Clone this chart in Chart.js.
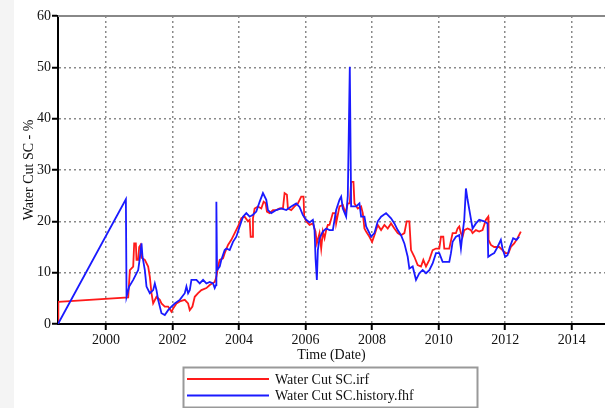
<!DOCTYPE html>
<html>
<head>
<meta charset="utf-8">
<script src="https://cdn.jsdelivr.net/npm/chart.js@4/dist/chart.umd.min.js"></script>
<style>
  html, body { margin: 0; padding: 0; background: #fff; }
  #wrap { width: 605px; height: 408px; position: relative; }
</style>
</head>
<body>
<div id="wrap"><canvas id="wcChart" width="605" height="408"></canvas></div>
<script>
// Water cut, simulated (irf) - decimal years and percent
const irfYears = [1998.56, 1998.57, 2000.67, 2000.72, 2000.82, 2000.85, 2000.90, 2000.92, 2000.97, 2001.00,
  2001.04, 2001.07, 2001.17, 2001.27, 2001.32, 2001.37, 2001.42, 2001.52, 2001.62, 2001.67,
  2001.77, 2001.87, 2001.97, 2002.02, 2002.12, 2002.22, 2002.37, 2002.47, 2002.52, 2002.60,
  2002.67, 2002.77, 2002.87, 2003.02, 2003.12, 2003.27, 2003.32, 2003.37, 2003.42, 2003.52,
  2003.57, 2003.67, 2003.77, 2003.87, 2003.97, 2004.07, 2004.17, 2004.27, 2004.32, 2004.35,
  2004.40, 2004.42, 2004.47, 2004.57, 2004.67, 2004.74, 2004.80, 2004.84, 2004.92, 2005.02,
  2005.12, 2005.22, 2005.32, 2005.37, 2005.44, 2005.47, 2005.57, 2005.67, 2005.77, 2005.87,
  2005.94, 2005.96, 2006.02, 2006.12, 2006.22, 2006.30, 2006.34, 2006.42, 2006.47, 2006.52,
  2006.57, 2006.62, 2006.67, 2006.72, 2006.82, 2006.90, 2006.92, 2007.02, 2007.12, 2007.20,
  2007.27, 2007.33, 2007.37, 2007.44, 2007.47, 2007.57, 2007.67, 2007.72, 2007.77, 2007.82,
  2007.92, 2008.00, 2008.07, 2008.17, 2008.27, 2008.37, 2008.47, 2008.57, 2008.67, 2008.77,
  2008.87, 2008.97, 2009.04, 2009.12, 2009.17, 2009.27, 2009.37, 2009.47, 2009.54, 2009.62,
  2009.72, 2009.82, 2009.92, 2010.02, 2010.07, 2010.14, 2010.17, 2010.32, 2010.42, 2010.52,
  2010.57, 2010.62, 2010.67, 2010.72, 2010.77, 2010.87, 2010.97, 2011.02, 2011.12, 2011.22,
  2011.32, 2011.42, 2011.49, 2011.50, 2011.57, 2011.67, 2011.82, 2011.92, 2012.00, 2012.10,
  2012.17, 2012.27, 2012.37, 2012.47];
const irfValues = [0, 4.3, 5.2, 10.5, 11.2, 15.7, 15.7, 12.5, 12.5, 15.0,
  15.4, 12.9, 12.5, 11.2, 9.2, 6.0, 4.0, 5.3, 4.7, 4.0,
  3.4, 3.4, 2.4, 3.0, 4.0, 4.4, 4.7, 4.0, 2.7, 3.4,
  5.3, 6.0, 6.6, 7.0, 7.6, 8.2, 9.2, 11.2, 12.5, 12.8,
  13.8, 15.4, 16.4, 17.7, 19.0, 20.6, 20.9, 20.0, 20.3, 17.0,
  17.0, 20.6, 22.5, 22.9, 22.5, 23.8, 23.5, 21.9, 21.6, 22.2,
  22.2, 22.5, 22.5, 25.5, 25.2, 22.5, 22.2, 22.9, 23.5, 24.8,
  24.8, 20.9, 20.0, 19.3, 19.6, 18.0, 15.7, 17.7, 14.7, 18.0,
  16.7, 18.3, 19.3, 19.3, 21.6, 21.6, 19.6, 22.9, 23.2, 21.6,
  23.5, 23.5, 27.7, 27.7, 23.5, 22.5, 22.9, 21.6, 18.6, 18.0,
  17.0, 16.0, 17.3, 19.3, 18.3, 19.3, 18.6, 19.6, 18.6, 17.7,
  17.3, 17.7, 20.0, 20.0, 14.4, 13.1, 11.5, 11.2, 12.5, 11.2,
  12.5, 14.4, 14.7, 14.7, 17.0, 17.0, 14.7, 14.7, 17.7, 17.7,
  18.6, 19.0, 17.7, 17.0, 18.3, 18.6, 18.3, 17.7, 18.3, 18.0,
  18.3, 20.3, 20.9, 16.4, 15.4, 15.0, 15.0, 14.4, 13.8, 13.8,
  15.0, 15.7, 16.7, 18.0];

// Water cut, history (fhf)
const fhfYears = [1998.56, 2000.60, 2000.62, 2000.70, 2000.82, 2000.97, 2001.02, 2001.07, 2001.10, 2001.17,
  2001.22, 2001.32, 2001.42, 2001.47, 2001.52, 2001.57, 2001.67, 2001.77, 2001.87, 2001.97,
  2002.07, 2002.22, 2002.37, 2002.42, 2002.47, 2002.52, 2002.57, 2002.72, 2002.82, 2002.92,
  2003.02, 2003.12, 2003.22, 2003.27, 2003.31, 2003.32, 2003.34, 2003.42, 2003.47, 2003.57,
  2003.62, 2003.72, 2003.82, 2003.92, 2004.02, 2004.12, 2004.22, 2004.32, 2004.42, 2004.52,
  2004.62, 2004.72, 2004.82, 2004.87, 2004.97, 2005.12, 2005.27, 2005.42, 2005.57, 2005.72,
  2005.82, 2005.92, 2006.02, 2006.12, 2006.22, 2006.27, 2006.30, 2006.34, 2006.37, 2006.42,
  2006.52, 2006.62, 2006.72, 2006.82, 2006.92, 2007.02, 2007.07, 2007.12, 2007.22, 2007.27,
  2007.33, 2007.37, 2007.52, 2007.62, 2007.67, 2007.77, 2007.82, 2007.92, 2007.97, 2008.07,
  2008.17, 2008.27, 2008.42, 2008.57, 2008.67, 2008.77, 2008.87, 2008.97, 2009.07, 2009.12,
  2009.22, 2009.32, 2009.42, 2009.52, 2009.62, 2009.72, 2009.82, 2009.92, 2010.02, 2010.12,
  2010.32, 2010.37, 2010.42, 2010.52, 2010.62, 2010.67, 2010.72, 2010.77, 2010.82, 2010.87,
  2010.94, 2011.02, 2011.12, 2011.22, 2011.37, 2011.47, 2011.49, 2011.58, 2011.67, 2011.77,
  2011.87, 2011.92, 2012.00, 2012.07, 2012.14, 2012.24, 2012.34, 2012.42];
const fhfValues = [0, 24.3, 5.3, 7.3, 8.6, 10.5, 12.9, 15.7, 13.1, 10.5,
  7.3, 6.0, 6.6, 7.9, 6.6, 4.7, 2.1, 1.75, 2.7, 3.4,
  4.0, 4.7, 6.0, 7.3, 6.0, 6.6, 8.6, 8.6, 7.9, 8.6,
  7.9, 8.2, 7.9, 7.0, 7.6, 23.8, 10.5, 11.2, 12.5, 14.4,
  14.7, 14.4, 16.0, 17.0, 19.0, 20.9, 21.6, 20.9, 21.3, 21.9,
  23.8, 25.5, 24.2, 22.2, 21.6, 22.2, 22.5, 22.2, 22.9, 23.5,
  22.8, 21.2, 20.3, 19.8, 20.3, 18.3, 12.8, 8.6, 14.4, 16.7,
  18.0, 18.6, 18.3, 18.3, 22.2, 24.2, 24.8, 22.5, 20.9, 25.0,
  50.1, 22.9, 22.9, 23.5, 20.9, 20.9, 19.0, 17.7, 17.0, 17.7,
  20.0, 20.9, 21.6, 20.6, 19.6, 18.3, 17.3, 15.7, 13.1, 10.8,
  11.2, 8.6, 9.9, 10.5, 9.9, 10.5, 11.8, 13.8, 13.8, 12.1,
  12.1, 13.8, 16.0, 17.0, 17.3, 14.7, 17.7, 20.3, 26.4, 24.2,
  21.6, 18.6, 19.6, 20.3, 20.0, 19.6, 13.1, 13.5, 13.8, 15.0,
  16.4, 14.7, 13.1, 13.4, 15.0, 16.7, 16.4, 17.0];

const xTicks = [2000, 2002, 2004, 2006, 2008, 2010, 2012, 2014];
const yTicks = [0, 10, 20, 30, 40, 50, 60];
const seriesNames = ['Water Cut SC.irf', 'Water Cut SC.history.fhf'];

const toPoints = (xs, ys) => xs.map((x, i) => ({ x: x, y: ys[i] }));

const FONT = 'Liberation Serif';

// light gray strip at the left edge + gray top frame line
const backdrop = {
  id: 'backdrop',
  beforeDraw(chart) {
    const c = chart.ctx;
    c.save();
    c.fillStyle = '#fff';
    c.fillRect(0, 0, chart.width, chart.height);
    c.fillStyle = '#f4f4f4';
    c.fillRect(0, 0, 14, chart.height);
    c.restore();
  },
  afterDraw(chart) {
    const a = chart.chartArea;
    const c = chart.ctx;
    c.save();
    c.strokeStyle = '#888';
    c.lineWidth = 2;
    c.beginPath();
    c.moveTo(a.left, a.top);
    c.lineTo(a.right, a.top);
    c.stroke();
    c.restore();
  }
};

// boxed legend below the axis title, one entry per row
const boxLegend = {
  id: 'boxLegend',
  afterDraw(chart) {
    const c = chart.ctx;
    const x0 = 183, y0 = 367, w = 294, h = 40;
    c.save();
    c.strokeStyle = '#999';
    c.lineWidth = 2;
    c.strokeRect(x0 + 0.5, y0 + 0.5, w, h);
    c.font = '14px "' + FONT + '"';
    c.textBaseline = 'middle';
    c.fillStyle = '#111';
    chart.data.datasets.forEach((ds, i) => {
      const yy = y0 + 12 + i * 16.5;
      c.strokeStyle = ds.borderColor;
      c.lineWidth = 2;
      c.beginPath();
      c.moveTo(x0 + 4, yy);
      c.lineTo(x0 + 86, yy);
      c.stroke();
      c.fillText(ds.label, x0 + 92, yy + 1);
    });
    c.restore();
  }
};

const ctx = document.getElementById('wcChart').getContext('2d');
new Chart(ctx, {
  type: 'line',
  data: {
    datasets: [
      {
        label: seriesNames[0],
        data: toPoints(irfYears, irfValues),
        borderColor: '#ff1a1a',
        borderWidth: 1.8,
        pointRadius: 0,
        tension: 0,
        order: 1
      },
      {
        label: seriesNames[1],
        data: toPoints(fhfYears, fhfValues),
        borderColor: '#1a1aff',
        borderWidth: 1.8,
        pointRadius: 0,
        tension: 0,
        order: 0
      }
    ]
  },
  options: {
    responsive: false,
    animation: false,
    events: [],
    layout: { padding: { top: 16, right: 0, bottom: 43, left: 0 } },
    plugins: {
      legend: { display: false },
      tooltip: { enabled: false }
    },
    scales: {
      x: {
        type: 'linear',
        min: 1998.56,
        max: 2015,
        afterBuildTicks: (scale) => { scale.ticks = xTicks.map(v => ({ value: v })); },
        afterFit: (scale) => { scale.height = 41; },
        ticks: {
          font: { family: FONT, size: 14 },
          color: '#111',
          padding: 2,
          maxRotation: 0,
          callback: (v) => String(v)
        },
        grid: {
          color: '#8a8a8a',
          lineWidth: 1.5,
          tickLength: 6,
          tickColor: '#000',
          tickWidth: 2,
          tickBorderDash: []
        },
        border: { color: '#000', width: 2, dash: [2, 3] },
        title: {
          display: true,
          text: 'Time (Date)',
          font: { family: FONT, size: 14 },
          color: '#111',
          padding: { top: 0, bottom: 1 }
        }
      },
      y: {
        min: 0,
        max: 60,
        afterBuildTicks: (scale) => { scale.ticks = yTicks.map(v => ({ value: v })); },
        afterFit: (scale) => { scale.width = 58; },
        ticks: {
          font: { family: FONT, size: 14 },
          color: '#111',
          padding: 1
        },
        grid: {
          color: (c) => (c.tick && (c.tick.value === 0 || c.tick.value === 60)) ? 'rgba(0,0,0,0)' : '#8a8a8a',
          lineWidth: 1.5,
          tickLength: 6,
          tickColor: '#000',
          tickWidth: 2,
          tickBorderDash: []
        },
        border: { color: '#000', width: 2, dash: [2, 3] },
        title: {
          display: true,
          text: 'Water Cut SC - %',
          font: { family: FONT, size: 14 },
          color: '#111',
          padding: { top: 21, bottom: 0 }
        }
      }
    }
  },
  plugins: [backdrop, boxLegend]
});
</script>
</body>
</html>
